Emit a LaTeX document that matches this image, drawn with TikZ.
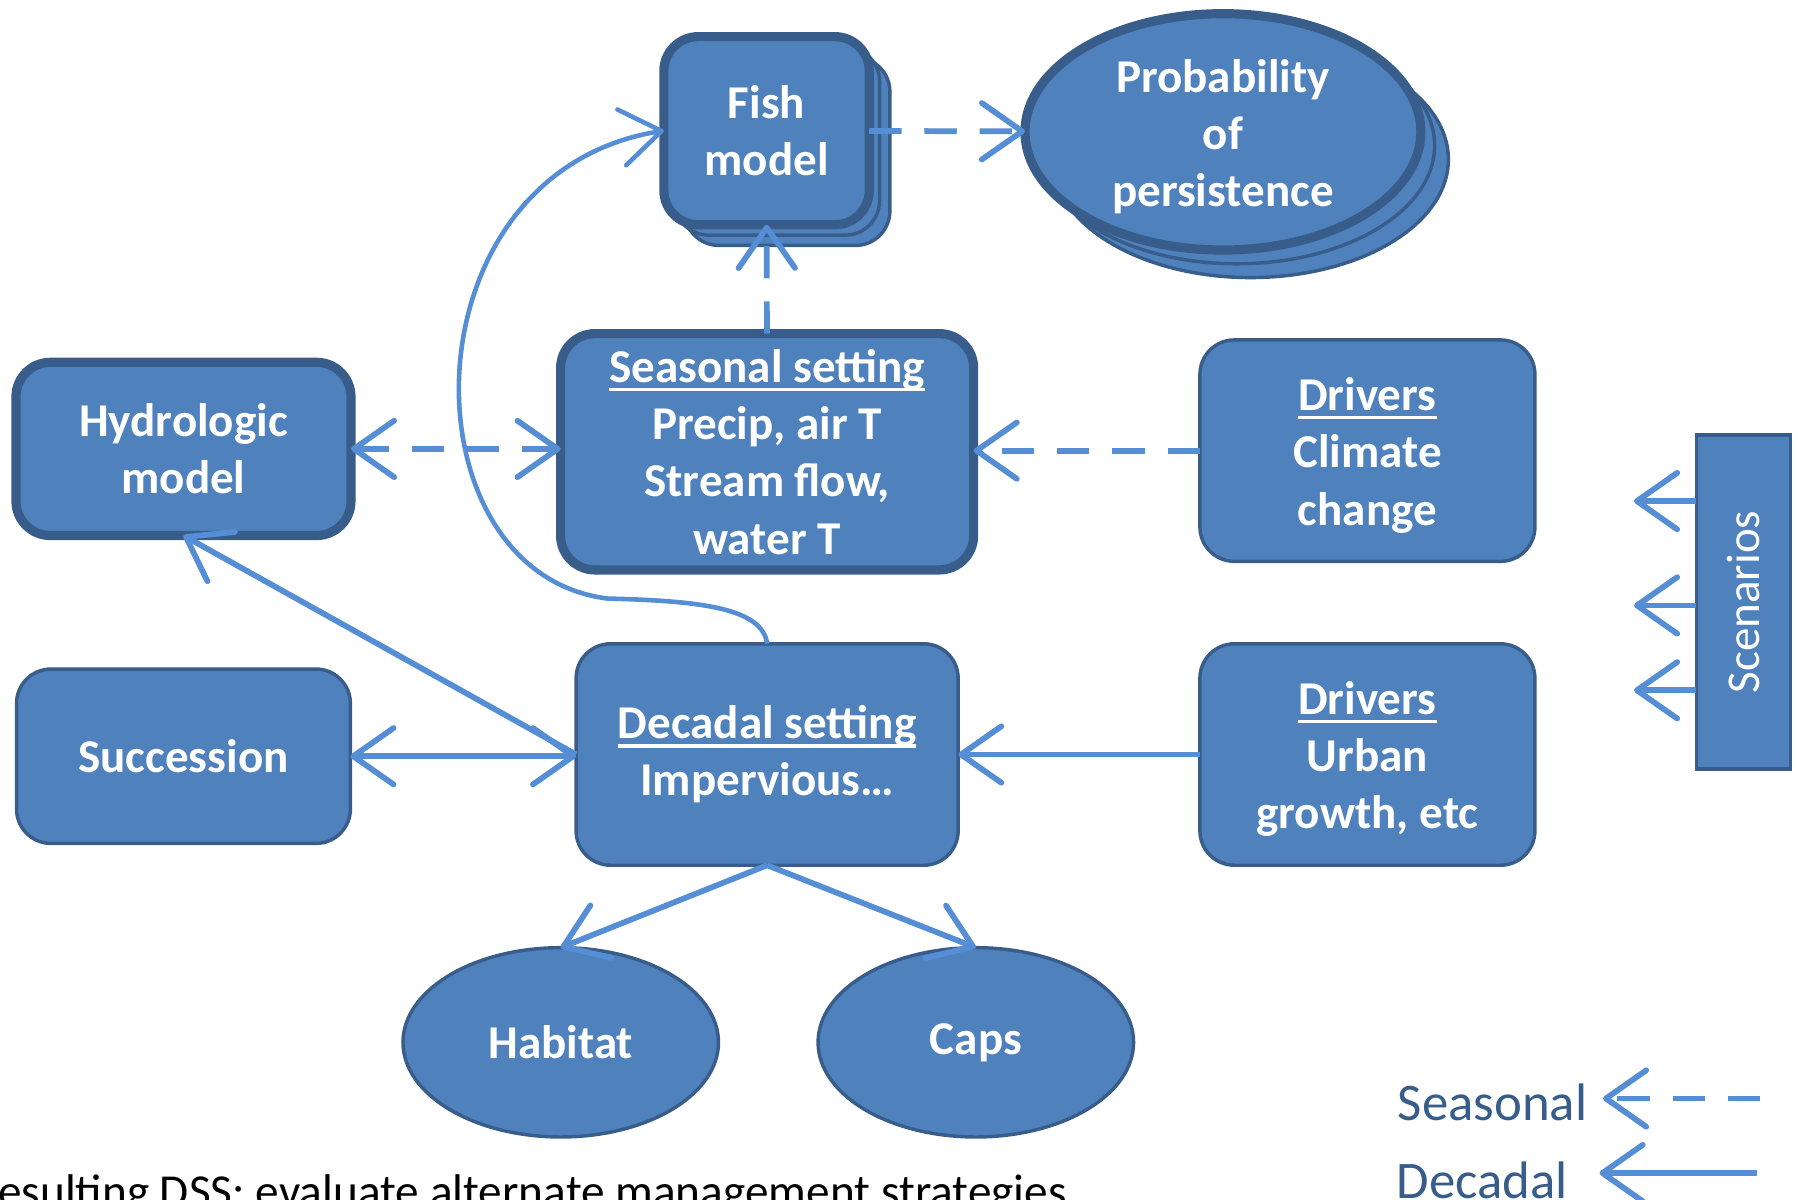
\documentclass[tikz,border=0pt]{standalone}
\usepackage{fontspec}
\setmainfont{Carlito}
\usetikzlibrary{arrows.meta,shapes.geometric,shadows}

\definecolor{boxfill}{HTML}{4F81BD}
\definecolor{boxline}{HTML}{385D8A}
\definecolor{linkblue}{HTML}{558ED5}

\newcommand{\boxfont}{\bfseries\fontsize{11.67}{14.2}\selectfont}
\newcommand{\keyfont}{\fontsize{13.1}{15}\selectfont}
\newcommand{\ulined}[1]{\leavevmode\setbox0\hbox{#1}\rlap{\rule[-2.2pt]{\wd0}{0.9pt}}\box0}
\newcommand{\topstrut}{\rule{0pt}{10.5pt}}

\tikzset{
  box/.style={rectangle, rounded corners=0.3cm, draw=boxline, fill=boxfill,
    line width=0.03cm, text=white, font=\boxfont, align=center,
    inner sep=0pt, outer sep=0pt},
  blob/.style={ellipse, draw=boxline, fill=boxfill, line width=0.03cm,
    text=white, font=\boxfont, align=center, inner sep=0pt, outer sep=0pt},
  heavy/.style={line width=0.08cm},
  stack/.style={
    copy shadow={shadow xshift=#1*2, shadow yshift=-#1*2, draw=boxline,
      fill=boxfill, line width=0.03cm},
    copy shadow={shadow xshift=#1, shadow yshift=-#1, draw=boxline,
      fill=boxfill, line width=0.03cm}},
  barb/.tip={Straight Barb[length=10pt,width=14pt,round]},
  link/.style={draw=linkblue, line width=0.05cm, -barb},
  twoway/.style={barb-barb},
  seasonal/.style={link, dash pattern=on 8pt off 5.7pt},
  decadal/.style={link},
}

\begin{document}
\begin{tikzpicture}[x=0.01cm, y=-0.01cm]
  \useasboundingbox (0,0) rectangle (1568,1046);

  % models and outputs
  \node[box, heavy, stack=0.09cm, minimum width=1.79cm, minimum height=1.64cm]
    (fish) at (668.5,114) {Fish\\model};
  \node[blob, heavy, stack=0.12cm, minimum width=3.45cm, minimum height=2.06cm]
    (prob) at (1066.5,115) {\topstrut Probability\\of\\persistence};
  \node[box, heavy, minimum width=3.6cm, minimum height=2.06cm]
    (seas) at (669,394) {\ulined{Seasonal setting}\\Precip, air T\\Stream flow,\\water T};
  \node[box, heavy, minimum width=2.92cm, minimum height=1.51cm]
    (hydro) at (160,391.5) {Hydrologic\\model};
  \node[box, minimum width=2.92cm, minimum height=1.93cm]
    (clim) at (1192.5,393) {\topstrut\ulined{Drivers}\\Climate\\change};
  \node[box, minimum width=3.33cm, minimum height=1.93cm]
    (dec) at (669,658) {\ulined{Decadal setting}\\Impervious…};
  \node[box, minimum width=2.91cm, minimum height=1.52cm]
    (succ) at (160,659.5) {Succession};
  \node[box, minimum width=2.92cm, minimum height=1.93cm]
    (urban) at (1192.5,658) {\topstrut\ulined{Drivers}\\Urban\\growth, etc};
  \node[blob, minimum width=2.75cm, minimum height=1.65cm]
    (hab) at (489,909) {Habitat};
  \node[blob, minimum width=2.75cm, minimum height=1.65cm]
    (caps) at (851,909) {Caps};
  \node[box, rounded corners=0pt, minimum width=0.82cm, minimum height=2.91cm,
    font=\fontsize{11.67}{14.2}\selectfont]
    (scen) at (1520.5,525) {\rotatebox{90}{Scenarios}};

  % seasonal links
  \draw[seasonal] (fish) -- (prob);
  \draw[seasonal] (seas) -- (fish);
  \draw[seasonal, twoway] (hydro.east) -- (hydro.east -| seas.west);
  \draw[seasonal] (clim.west) -- (clim.west -| seas.east);

  % decadal links
  \coordinate (loop) at (530,522);
  \draw[decadal, line width=0.04cm] (dec.north) .. controls (665,530) and (610,524) .. (loop)
    .. controls (350,500) and (350,150) .. (fish.west);
  \draw[decadal] (dec.west) -- (hydro.south);
  \draw[decadal, twoway] (succ.east) -- (succ.east -| dec.west);
  \draw[decadal] (urban.west) -- (urban.west -| dec.east);
  \draw[decadal] (dec.south) -- (hab.north);
  \draw[decadal] (dec.south) -- (caps.north);
  \foreach \y [count=\i] in {437,528,602} {
    \coordinate (sc\i) at (1425,\y);
    \draw[decadal] (scen.west |- sc\i) -- (sc\i);
  }

  % key
  \node[anchor=base east, text=boxline, font=\keyfont, inner sep=0pt]
    (keyseas) at (1385,977) {Seasonal};
  \node[anchor=base east, text=boxline, font=\keyfont, inner sep=0pt]
    (keydec) at (1368,1045) {Decadal};
  \coordinate (ks1) at (1535,958);
  \coordinate (ks2) at (1398,958);
  \coordinate (kd1) at (1532,1023);
  \coordinate (kd2) at (1395,1023);
  \draw[seasonal] (ks1) -- (ks2);
  \draw[decadal] (kd1) -- (kd2);

  \node[anchor=base west, inner sep=0pt, font=\fontsize{11.73}{14}\selectfont]
    (note) at (-24,1053) {Resulting DSS: evaluate alternate management strategies};
\end{tikzpicture}
\end{document}
